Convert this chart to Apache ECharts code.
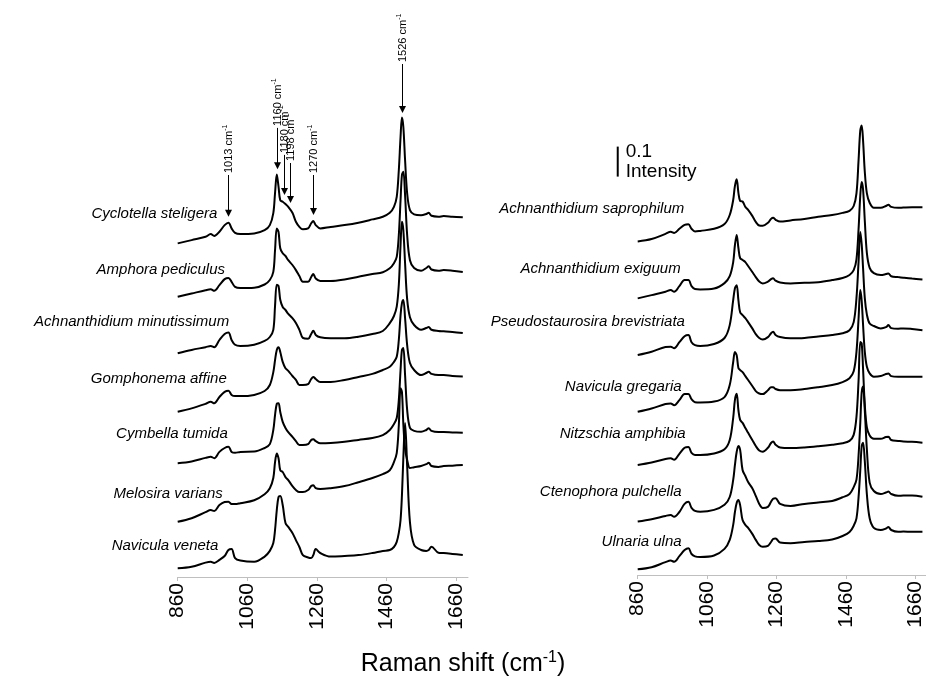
<!DOCTYPE html>
<html>
<head>
<meta charset="utf-8">
<script src="https://cdn.jsdelivr.net/npm/echarts@6/dist/echarts.min.js"></script>
<style>html,body{margin:0;padding:0;background:#fff;}#c{width:926px;height:679px;}</style>
</head>
<body>
<div id="c"></div>
<script>
// Raman shift grid (cm-1, as placed on the drawn axis)
const W = [860,900,940,955,965,980,995,1006,1015,1025,1040,1080,1110,1125,1135,1140,1145,1150,1155,1162,1170,1178,1190,1200,1210,1220,1235,1244,1250,1257,1270,1300,1340,1380,1420,1450,1470,1482,1490,1496,1501,1505,1509,1514,1520,1528,1540,1560,1575,1582,1590,1610,1625,1650,1680];

const leftNames = ['Cyclotella steligera','Amphora pediculus','Achnanthidium minutissimum','Gomphonema affine','Cymbella tumida','Melosira varians','Navicula veneta'];
const rightNames = ['Achnanthidium saprophilum','Achnanthidium exiguum','Pseudostaurosira brevistriata','Navicula gregaria','Nitzschia amphibia','Ctenophora pulchella','Ulnaria ulna'];

// relative intensities (above each spectrum's start)
const cyclotellaSteligera = [0,0.011,0.022,0.031,0.025,0.039,0.061,0.069,0.050,0.035,0.031,0.033,0.044,0.061,0.101,0.168,0.230,0.189,0.144,0.139,0.131,0.122,0.102,0.072,0.055,0.047,0.050,0.067,0.075,0.061,0.050,0.055,0.061,0.069,0.080,0.089,0.102,0.122,0.155,0.244,0.355,0.420,0.389,0.278,0.167,0.111,0.097,0.094,0.098,0.102,0.092,0.089,0.091,0.089,0.087];
const amphoraPediculus = [0,0.011,0.022,0.025,0.020,0.039,0.059,0.063,0.050,0.033,0.029,0.030,0.041,0.056,0.083,0.156,0.228,0.216,0.162,0.145,0.136,0.122,0.106,0.089,0.069,0.050,0.050,0.066,0.076,0.061,0.053,0.053,0.058,0.067,0.076,0.082,0.095,0.112,0.133,0.206,0.322,0.406,0.417,0.339,0.206,0.122,0.096,0.087,0.096,0.102,0.091,0.087,0.089,0.087,0.083];
const achnanthidiumMinutissimum = [0,0.011,0.020,0.024,0.020,0.044,0.064,0.069,0.044,0.028,0.024,0.028,0.041,0.054,0.078,0.158,0.228,0.224,0.178,0.154,0.144,0.131,0.117,0.101,0.078,0.051,0.048,0.064,0.075,0.061,0.053,0.050,0.050,0.055,0.064,0.074,0.100,0.124,0.155,0.228,0.361,0.438,0.410,0.300,0.180,0.120,0.094,0.078,0.084,0.087,0.078,0.074,0.073,0.071,0.067];
const gomphonemaAffine = [0,0.011,0.026,0.033,0.028,0.049,0.066,0.070,0.056,0.052,0.052,0.056,0.069,0.089,0.132,0.172,0.206,0.215,0.199,0.166,0.145,0.136,0.119,0.106,0.089,0.089,0.092,0.109,0.116,0.109,0.099,0.099,0.106,0.116,0.126,0.139,0.150,0.166,0.183,0.239,0.322,0.362,0.372,0.312,0.222,0.162,0.139,0.122,0.129,0.133,0.126,0.122,0.122,0.119,0.117];
const cymbellaTumida = [0,0.006,0.018,0.022,0.017,0.038,0.051,0.055,0.038,0.035,0.038,0.039,0.051,0.064,0.111,0.161,0.198,0.200,0.171,0.138,0.118,0.104,0.088,0.074,0.061,0.061,0.064,0.078,0.080,0.074,0.067,0.068,0.072,0.078,0.084,0.094,0.111,0.131,0.151,0.211,0.311,0.378,0.384,0.294,0.178,0.118,0.108,0.105,0.111,0.117,0.108,0.104,0.104,0.103,0.102];
const melosiraVarians = [0,0.012,0.032,0.039,0.036,0.056,0.066,0.067,0.059,0.059,0.062,0.072,0.092,0.112,0.146,0.199,0.228,0.212,0.172,0.166,0.149,0.139,0.119,0.106,0.099,0.099,0.106,0.119,0.122,0.112,0.109,0.112,0.119,0.132,0.146,0.159,0.172,0.199,0.229,0.322,0.445,0.432,0.326,0.243,0.206,0.179,0.182,0.186,0.192,0.197,0.186,0.183,0.186,0.187,0.189];
const naviculaVeneta = [0,0.005,0.019,0.022,0.018,0.028,0.041,0.061,0.064,0.034,0.026,0.022,0.039,0.058,0.084,0.128,0.194,0.238,0.241,0.211,0.151,0.138,0.118,0.094,0.071,0.044,0.036,0.034,0.044,0.064,0.051,0.039,0.041,0.044,0.051,0.058,0.061,0.071,0.088,0.118,0.161,0.244,0.368,0.484,0.341,0.154,0.078,0.061,0.058,0.061,0.072,0.052,0.051,0.048,0.044];

const achnanthidiumSaprophilum = [0,0.008,0.025,0.032,0.028,0.042,0.055,0.057,0.042,0.033,0.035,0.042,0.058,0.088,0.138,0.185,0.207,0.162,0.135,0.133,0.115,0.105,0.085,0.065,0.053,0.052,0.062,0.075,0.079,0.072,0.066,0.070,0.075,0.082,0.088,0.095,0.102,0.118,0.160,0.270,0.370,0.386,0.336,0.232,0.160,0.129,0.112,0.112,0.118,0.122,0.115,0.112,0.113,0.114,0.114];
const achnanthidiumExiguum = [0,0.011,0.022,0.028,0.022,0.041,0.061,0.061,0.041,0.031,0.030,0.033,0.051,0.074,0.121,0.178,0.211,0.168,0.134,0.128,0.121,0.108,0.088,0.071,0.056,0.050,0.056,0.064,0.067,0.059,0.053,0.050,0.052,0.054,0.061,0.068,0.078,0.094,0.130,0.230,0.343,0.388,0.363,0.259,0.151,0.102,0.084,0.078,0.081,0.083,0.074,0.071,0.069,0.066,0.063];
const pseudostaurosiraBrevistriata = [0,0.011,0.027,0.028,0.023,0.043,0.063,0.067,0.043,0.033,0.030,0.037,0.057,0.100,0.183,0.223,0.233,0.183,0.143,0.133,0.123,0.110,0.089,0.070,0.057,0.052,0.060,0.073,0.078,0.067,0.060,0.056,0.057,0.062,0.067,0.073,0.083,0.110,0.190,0.310,0.410,0.370,0.290,0.190,0.135,0.105,0.097,0.089,0.093,0.100,0.090,0.088,0.089,0.087,0.083];
const naviculaGregaria = [0,0.011,0.026,0.028,0.022,0.039,0.059,0.059,0.042,0.032,0.031,0.034,0.049,0.089,0.166,0.199,0.189,0.146,0.139,0.132,0.119,0.106,0.086,0.069,0.061,0.059,0.072,0.082,0.082,0.076,0.072,0.072,0.076,0.082,0.089,0.099,0.112,0.135,0.200,0.310,0.406,0.370,0.290,0.200,0.150,0.128,0.117,0.119,0.126,0.128,0.119,0.117,0.117,0.117,0.117];
const nitzschiaAmphibia = [0,0.008,0.020,0.022,0.017,0.037,0.057,0.060,0.040,0.033,0.033,0.038,0.052,0.083,0.157,0.217,0.237,0.183,0.150,0.140,0.123,0.107,0.083,0.063,0.048,0.044,0.057,0.073,0.078,0.067,0.058,0.056,0.058,0.062,0.067,0.072,0.080,0.100,0.160,0.280,0.410,0.405,0.320,0.200,0.125,0.098,0.087,0.087,0.093,0.094,0.083,0.080,0.078,0.077,0.074];
const ctenophoraPulchella = [0,0.008,0.019,0.022,0.016,0.032,0.059,0.066,0.046,0.036,0.033,0.039,0.056,0.082,0.139,0.189,0.232,0.252,0.239,0.172,0.152,0.132,0.111,0.086,0.059,0.045,0.049,0.066,0.076,0.078,0.059,0.052,0.059,0.064,0.069,0.081,0.092,0.115,0.140,0.220,0.330,0.430,0.450,0.370,0.240,0.130,0.102,0.092,0.097,0.100,0.092,0.086,0.087,0.087,0.083];
const ulnariaUlna = [0,0.007,0.024,0.029,0.025,0.044,0.064,0.070,0.051,0.043,0.041,0.046,0.068,0.098,0.148,0.191,0.221,0.231,0.214,0.164,0.148,0.138,0.118,0.098,0.081,0.075,0.078,0.091,0.101,0.103,0.089,0.087,0.091,0.094,0.099,0.111,0.124,0.145,0.170,0.240,0.330,0.410,0.422,0.360,0.250,0.170,0.138,0.131,0.136,0.141,0.131,0.125,0.126,0.125,0.125];

const leftSpectra = [cyclotellaSteligera, amphoraPediculus, achnanthidiumMinutissimum, gomphonemaAffine, cymbellaTumida, melosiraVarians, naviculaVeneta];
const rightSpectra = [achnanthidiumSaprophilum, achnanthidiumExiguum, pseudostaurosiraBrevistriata, naviculaGregaria, nitzschiaAmphibia, ctenophoraPulchella, ulnariaUlna];

// vertical stacking offsets (intensity units)
const leftOffsets = [1.112, 0.934, 0.746, 0.551, 0.379, 0.184, 0.029];
const rightOffsets = [1.112, 0.922, 0.733, 0.544, 0.367, 0.178, 0.019];

const tickValues = [860, 1060, 1260, 1460, 1660];

// band annotations (label text, drawn wavenumber, arrow tip / top in intensity units)
const bandLabels = ['1013', '1160', '1180', '1198', '1270', '1526'];
const bandWn = [1005.6, 1144.9, 1166.8, 1183.2, 1250.2, 1504.6];
const bandTip = [1.201, 1.359, 1.273, 1.247, 1.207, 1.547];
const bandTop = [1.340, 1.497, 1.407, 1.380, 1.340, 1.710];

// species label anchor (right end wn, centre value)
const leftLabelWn = [974, 996, 1008, 1001, 1004, 989.5, 977];
const leftLabelVal = [1.210, 1.023, 0.850, 0.660, 0.477, 0.277, 0.103];
const rightLabelWn = [994, 983.6, 996, 986.4, 998, 986.4, 986.4];
const rightLabelVal = [1.222, 1.019, 0.844, 0.628, 0.470, 0.278, 0.111];

const scaleBar = {wn: 802.5, from: 1.328, size: 0.1};

const FONT = 'Liberation Sans, Arial, Helvetica, sans-serif';
const chart = echarts.init(document.getElementById('c'), null, {renderer: 'canvas'});

function xAxisCfg(gi, max) {
  return {
    gridIndex: gi, type: 'value', min: 860, max: max, interval: 200,
    axisLine: {show: true, lineStyle: {color: '#bfbfbf', width: 1}},
    axisTick: {show: true, length: 4, lineStyle: {color: '#bfbfbf'}, customValues: tickValues},
    axisLabel: {rotate: 90, fontSize: 21, color: '#000', fontFamily: FONT, margin: 6, customValues: tickValues,
      formatter: v => String(v)},
    splitLine: {show: false}
  };
}
function yAxisCfg(gi) {
  return {gridIndex: gi, type: 'value', min: 0, max: 1.7, show: false};
}

const series = [];
leftSpectra.forEach((s, k) => {
  series.push({
    type: 'line', xAxisIndex: 0, yAxisIndex: 0, name: leftNames[k],
    data: W.map((w, i) => [w, s[i] + leftOffsets[k]]),
    showSymbol: false, smooth: 0.35, lineStyle: {color: '#000', width: 2}, silent: true
  });
});
rightSpectra.forEach((s, k) => {
  series.push({
    type: 'line', xAxisIndex: 1, yAxisIndex: 1, name: rightNames[k],
    data: W.map((w, i) => [w, s[i] + rightOffsets[k]]),
    showSymbol: false, smooth: 0.35, lineStyle: {color: '#000', width: 2}, silent: true
  });
});

chart.setOption({
  animation: false,
  backgroundColor: '#fff',
  grid: [
    {left: 177.7, width: 290.3, top: 67, height: 510},
    {left: 637.7, width: 288.8, top: 65, height: 510}
  ],
  xAxis: [xAxisCfg(0, 1695), xAxisCfg(1, 1690)],
  yAxis: [yAxisCfg(0), yAxisCfg(1)],
  series: series
});

function px(gi, x, y) {
  return chart.convertToPixel({xAxisIndex: gi, yAxisIndex: gi}, [x, y]);
}

const g = [];
// species names
leftNames.forEach((n, k) => {
  const p = px(0, leftLabelWn[k], leftLabelVal[k]);
  g.push({type: 'text', x: p[0], y: p[1], style: {text: n, font: 'italic 15px ' + FONT, fill: '#000', align: 'right', verticalAlign: 'middle'}});
});
rightNames.forEach((n, k) => {
  const p = px(1, rightLabelWn[k], rightLabelVal[k]);
  g.push({type: 'text', x: p[0], y: p[1], style: {text: n, font: 'italic 15px ' + FONT, fill: '#000', align: 'right', verticalAlign: 'middle'}});
});
// band arrows
bandLabels.forEach((lab, i) => {
  const top = px(0, bandWn[i], bandTop[i]);
  const tip = px(0, bandWn[i], bandTip[i]);
  const x = Math.round(tip[0]) + 0.5;
  g.push({type: 'line', shape: {x1: x, y1: top[1], x2: x, y2: tip[1] - 5}, style: {stroke: '#000', lineWidth: 1}});
  g.push({type: 'polygon', shape: {points: [[x - 3.5, tip[1] - 7], [x + 3.5, tip[1] - 7], [x, tip[1]]]}, style: {fill: '#000'}});
  g.push({type: 'text', x: x, y: top[1] - 2, rotation: Math.PI / 2,
    style: {text: '{n|' + lab + ' cm}{s|-1}', align: 'left', verticalAlign: 'middle', fill: '#000',
      rich: {n: {fontSize: 11, fontFamily: FONT, lineHeight: 13}, s: {fontSize: 7, fontFamily: FONT, verticalAlign: 'top'}}}});
});
// scale bar
const sb0 = px(1, scaleBar.wn, scaleBar.from);
const sb1 = px(1, scaleBar.wn, scaleBar.from + scaleBar.size);
g.push({type: 'line', shape: {x1: sb0[0], y1: sb0[1], x2: sb1[0], y2: sb1[1]}, style: {stroke: '#000', lineWidth: 2}});
g.push({type: 'text', x: sb0[0] + 8, y: sb1[1] - 5, style: {text: '0.1\nIntensity', font: '19px ' + FONT, lineHeight: 20, fill: '#000', align: 'left', verticalAlign: 'top'}});
// x-axis title
g.push({type: 'text', x: 463, y: 664, style: {text: '{n|Raman shift (cm}{s|-1}{n|)}', align: 'center', verticalAlign: 'middle', fill: '#000',
  rich: {n: {fontSize: 25, fontFamily: FONT, lineHeight: 28}, s: {fontSize: 16, fontFamily: FONT, verticalAlign: 'top'}}}});

chart.setOption({graphic: g});
</script>
</body>
</html>
